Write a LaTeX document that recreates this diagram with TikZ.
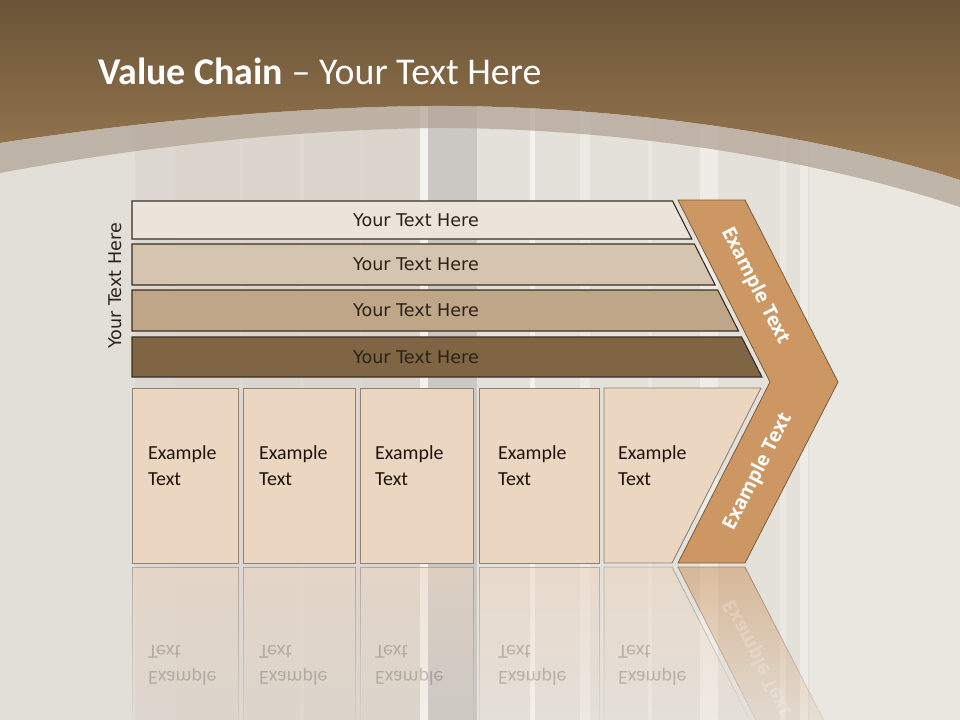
\documentclass[tikz,border=0pt]{standalone}
\usepackage{fontspec}
\usetikzlibrary{fadings}
\setmainfont{Carlito}
\newfontfamily\dejavu{DejaVu Sans}
\newfontfamily\opensans{Open Sans}
\definecolor{bgleft}{HTML}{E2DED8}
\definecolor{bgmid}{HTML}{DBD5CE}
\definecolor{bggray}{HTML}{CBC8C4}
\definecolor{bgwhite}{HTML}{F4F2EE}
\definecolor{bgright}{HTML}{EAE6E0}
\definecolor{browntop}{HTML}{6A5437}
\definecolor{brownbot}{HTML}{9A7A52}
\definecolor{archband}{HTML}{B3A597}
\definecolor{barA}{HTML}{EBE4DA}
\definecolor{barB}{HTML}{D4C4B0}
\definecolor{barC}{HTML}{BFA688}
\definecolor{barD}{HTML}{806545}
\definecolor{bardraw}{HTML}{3A2E22}
\definecolor{boxfill}{HTML}{EBD6C2}
\definecolor{boxdraw}{HTML}{8C8278}
\definecolor{chevfill}{HTML}{CC9763}
\definecolor{chevdraw}{HTML}{7A5C3A}
\definecolor{textdark}{HTML}{2B2119}
\definecolor{boxtext}{HTML}{1E140C}
\tikzfading[name=reflfade, top color=transparent!45, bottom color=transparent!100]
\tikzset{
  barshape/.style={draw=bardraw, line width=1.1bp},
  bartext/.style={font=\dejavu\fontsize{17.6}{21}\selectfont, text=textdark, inner sep=0pt},
  boxshape/.style={fill=boxfill, draw=boxdraw, line width=0.9bp},
  boxtxt/.style={font=\fontsize{20}{26}\selectfont, text=boxtext, inner sep=0pt, anchor=base west},
  chevshape/.style={fill=chevfill, draw=chevdraw, line width=0.8bp},
  chevtext/.style={font=\opensans\bfseries\fontsize{19.5}{22}\selectfont, text=white, inner sep=0pt},
  reflbox/.style={fill=boxfill, path fading=reflfade},
  reflchev/.style={fill=chevfill, path fading=reflfade},
  refledge/.style={draw=boxdraw, line width=0.9bp, path fading=reflfade},
}
\newcommand\vcbar[4]{%
  \path[barshape, fill=#3] (132,#1) -- ({672+0.508*(#1-200)},#1) -- ({672+0.508*(#2-200)},#2) -- (132,#2) -- cycle;
  \node[bartext, anchor=base] (#4) at (416,{(#1+#2)/2+6}) {Your Text Here};
}
\newcommand\vctexts[1]{%
  \foreach \bx [count=\k] in {148,259,375,498,618}{
    \node[boxtxt] (ex#1\k) at (\bx,459) {Example};
    \node[boxtxt] (tx#1\k) at (\bx,485) {Text};
  }
  \node[chevtext, rotate=63] (chevlow#1) at (758,472) {Example Text};
}
\begin{document}
\begin{tikzpicture}[x=1bp,y=-1bp]
\useasboundingbox (0,0) rectangle (960,720);
% background with vertical stripes
\fill[bgleft] (0,0) rectangle (960,720);
\fill[bgmid] (135,0) rectangle (420,720);
\fill[bgmid!80!bgleft] (135,0) rectangle (175,720);
\fill[bgwhite] (420,0) rectangle (428,720);
\fill[bggray] (428,0) rectangle (477,720);
\fill[bgleft!70!bgright] (477,0) rectangle (810,720);
\fill[bgwhite] (530,0) rectangle (535,720);
\fill[bgwhite!60!bgleft] (580,0) rectangle (590,720);
\fill[bgwhite!50!bgleft] (648,0) rectangle (652,720);
\fill[bgwhite!70!bgleft] (700,0) rectangle (718,720);
\fill[bgwhite!50!bgleft] (780,0) rectangle (786,720);
\fill[bgwhite!70!bgleft] (800,0) rectangle (808,720);
\fill[bgright] (810,0) rectangle (960,720);
\fill[bgmid!60!bgleft] (240,0) rectangle (243,720);
\fill[bgmid!60!bgleft] (300,0) rectangle (304,720);
\fill[bgmid!60!bgleft] (360,0) rectangle (362,720);
% top brown band
\shade[top color=browntop, bottom color=brownbot]
  (0,0) -- (960,0) -- (960,180) .. controls (820,135) and (620,105) .. (430,106)
  .. controls (300,107) and (150,120) .. (0,143) -- cycle;
% arch band
\fill[archband, opacity=0.75]
  (0,143) .. controls (150,120) and (300,107) .. (430,106)
  .. controls (620,105) and (820,135) .. (960,180) -- (960,207)
  .. controls (820,160) and (620,127) .. (430,128)
  .. controls (300,130) and (150,145) .. (0,173) -- cycle;
% title
\node[anchor=base west, inner sep=0pt, text=white, font=\fontsize{38}{42}\selectfont] (title) at (98,85)
  {\textbf{Value Chain} – Your Text Here};
% left vertical label
\node[bartext, rotate=90] (side) at (115,286) {Your Text Here};
% bars
\vcbar{201}{239}{barA}{bar1}
\vcbar{244}{285}{barB}{bar2}
\vcbar{290}{331}{barC}{bar3}
\vcbar{337}{377}{barD}{bar4}
% boxes and chevron
\path[boxshape] (132,388) rectangle (238,563);
\path[boxshape] (243,388) rectangle (355,563);
\path[boxshape] (360,388) rectangle (473,563);
\path[boxshape] (479,388) rectangle (599,563);
\path[boxshape] (604,388) -- (761,388) -- (672,563) -- (604,563) -- cycle;
\path[chevshape] (678,200) -- (745,200) -- (838,382) -- (745,563) -- (678,563) -- (770,382) -- cycle;
\vctexts{m}
\node[chevtext, rotate=-63] (chevup) at (755,286) {Example Text};
% reflection
\path[reflbox] (132,567) rectangle (238,742);
\path[reflbox] (243,567) rectangle (355,742);
\path[reflbox] (360,567) rectangle (473,742);
\path[reflbox] (479,567) rectangle (599,742);
\path[reflbox] (604,742) -- (761,742) -- (672,567) -- (604,567) -- cycle;
\path[reflchev] (678,567) -- (745,567) -- (838,748) -- (770,748) -- cycle;
\path[refledge] (132,567) rectangle (238,742);
\path[refledge] (243,567) rectangle (355,742);
\path[refledge] (360,567) rectangle (473,742);
\path[refledge] (479,567) rectangle (599,742);
\path[refledge] (604,742) -- (761,742) -- (672,567) -- (604,567) -- cycle;
\path[refledge, draw=chevdraw] (678,567) -- (745,567) -- (838,748) -- (770,748) -- cycle;
\begin{scope}
  \clip (0,566) rectangle (960,720);
  \begin{scope}[opacity=0.22, shift={(0,1130)}, yscale=-1, transform shape]
    \vctexts{r}
  \end{scope}
\end{scope}
\end{tikzpicture}
\end{document}
